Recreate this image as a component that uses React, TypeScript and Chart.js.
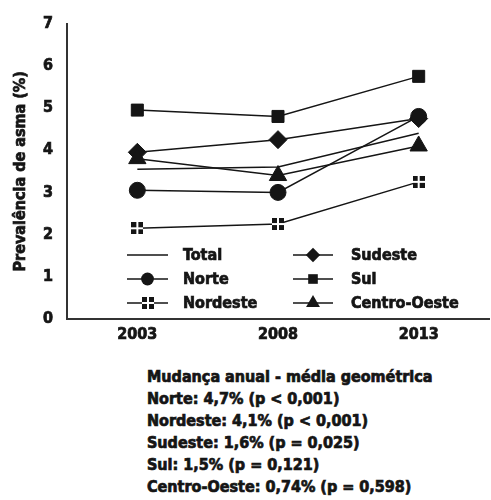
import React, { useEffect, useRef } from 'react';
import { Chart, registerables } from 'chart.js';

Chart.register(...registerables);

// ---- data ----
const years = ['2003', '2008', '2013'];
const total = [3.55, 3.6, 4.4];
const norte = [3.05, 3.0, 4.8];
const nordeste = [2.15, 2.25, 3.25];
const sudeste = [3.95, 4.25, 4.75];
const sul = [4.95, 4.8, 5.75];
const centroOeste = [3.8, 3.4, 4.1];
const yMin = 0;
const yMax = 7;
const yTitle = 'Prevalência de asma (%)';
const notes = [
  'Mudança anual - média geométrica',
  'Norte: 4,7% (p < 0,001)',
  'Nordeste: 4,1% (p < 0,001)',
  'Sudeste: 1,6% (p = 0,025)',
  'Sul: 1,5% (p = 0,121)',
  'Centro-Oeste: 0,74% (p = 0,598)',
];

const FONT = '"DejaVu Sans Condensed", "Liberation Sans Narrow", "DejaVu Sans", sans-serif';
const INK = '#151515';
const STROKE = 0.7;

function makeQuadMarker(): HTMLCanvasElement {
  const c = document.createElement('canvas');
  c.width = 12;
  c.height = 12;
  const g = c.getContext('2d')!;
  g.fillStyle = '#ffffff';
  g.fillRect(0, 0, 12, 12);
  g.fillStyle = INK;
  g.fillRect(0, 0, 5, 5);
  g.fillRect(7, 0, 5, 5);
  g.fillRect(0, 7, 5, 5);
  g.fillRect(7, 7, 5, 5);
  return c;
}

function drawMarker(ctx: CanvasRenderingContext2D, style: any, x: number, y: number, r: number) {
  ctx.save();
  ctx.fillStyle = INK;
  ctx.beginPath();
  if (style instanceof HTMLCanvasElement) {
    ctx.drawImage(style, Math.round(x - style.width / 2), Math.round(y - style.height / 2));
    ctx.restore();
    return;
  }
  if (style === 'circle') {
    ctx.arc(x, y, r, 0, Math.PI * 2);
  } else if (style === 'rect') {
    const s = r * Math.SQRT1_2;
    ctx.rect(x - s, y - s, 2 * s, 2 * s);
  } else if (style === 'rectRot') {
    ctx.moveTo(x, y - r);
    ctx.lineTo(x + r, y);
    ctx.lineTo(x, y + r);
    ctx.lineTo(x - r, y);
    ctx.closePath();
  } else if (style === 'triangle') {
    const a = (2 * Math.PI) / 3;
    ctx.moveTo(x, y - r);
    ctx.lineTo(x + Math.sin(a) * r, y - Math.cos(a) * r);
    ctx.lineTo(x + Math.sin(2 * a) * r, y - Math.cos(2 * a) * r);
    ctx.closePath();
  } else {
    ctx.restore();
    return;
  }
  ctx.fill();
  ctx.restore();
}

function boldText(ctx: CanvasRenderingContext2D, text: string, x: number, y: number) {
  ctx.fillText(text, x, y);
  ctx.lineWidth = STROKE;
  ctx.strokeStyle = INK;
  ctx.strokeText(text, x, y);
}

const legendPlugin = {
  id: 'twoColLegend',
  afterDraw(chart: any) {
    const ctx: CanvasRenderingContext2D = chart.ctx;
    const ds = chart.data.datasets;
    const cols = [
      { x0: 127, x1: 168, tx: 183, items: ['Total', 'Norte', 'Nordeste'] },
      { x0: 293, x1: 333, tx: 351, items: ['Sudeste', 'Sul', 'Centro-Oeste'] },
    ];
    const rows = [255, 279, 303];
    ctx.save();
    ctx.font = `bold 16px ${FONT}`;
    ctx.textBaseline = 'middle';
    ctx.textAlign = 'left';
    cols.forEach((col) => {
      col.items.forEach((label, i) => {
        const d = ds.find((x: any) => x.label === label);
        if (!d) return;
        const y = rows[i];
        ctx.strokeStyle = INK;
        ctx.lineWidth = 1.5;
        ctx.beginPath();
        ctx.moveTo(col.x0, y);
        ctx.lineTo(col.x1, y);
        ctx.stroke();
        if (d.pointRadius > 0) {
          drawMarker(ctx, d.pointStyle, (col.x0 + col.x1) / 2, y, d.pointRadius * 0.8);
        }
        ctx.fillStyle = INK;
        boldText(ctx, label, col.tx, y + 1);
      });
    });
    // y-axis title
    const area = chart.chartArea;
    ctx.translate(21, (area.top + area.bottom) / 2);
    ctx.rotate(-Math.PI / 2);
    ctx.textAlign = 'center';
    ctx.textBaseline = 'middle';
    ctx.font = `bold 16px ${FONT}`;
    ctx.fillStyle = INK;
    boldText(ctx, yTitle, 0, 0);
    ctx.restore();
  },
};

export default function App() {
  const ref = useRef<HTMLCanvasElement | null>(null);

  useEffect(() => {
    document.body.style.margin = '0';
    const quad = makeQuadMarker();
    const base = {
      borderColor: INK,
      backgroundColor: INK,
      pointBackgroundColor: INK,
      pointBorderColor: INK,
      borderWidth: 1.5,
      pointBorderWidth: 1,
      tension: 0,
    };
    const tickFont = { family: FONT, size: 16, weight: 'bold' };
    const chart = new Chart(ref.current!, {
      type: 'line',
      data: {
        labels: years,
        datasets: [
          { ...base, label: 'Total', data: total, pointRadius: 0, pointStyle: 'line' },
          { ...base, label: 'Nordeste', data: nordeste, pointRadius: 6, pointStyle: quad, pointBorderWidth: 0 },
          { ...base, label: 'Norte', data: norte, pointRadius: 8, pointStyle: 'circle' },
          { ...base, label: 'Centro-Oeste', data: centroOeste, pointRadius: 10, pointStyle: 'triangle' },
          { ...base, label: 'Sudeste', data: sudeste, pointRadius: 9, pointStyle: 'rectRot' },
          { ...base, label: 'Sul', data: sul, pointRadius: 8.5, pointStyle: 'rect' },
        ] as any,
      },
      options: {
        animation: false,
        responsive: false,
        maintainAspectRatio: false,
        layout: { autoPadding: false, padding: { top: 23, left: 0, right: 2, bottom: 0 } },
        plugins: {
          legend: { display: false },
          tooltip: { enabled: false },
        },
        scales: {
          x: {
            offset: true,
            grid: { display: false, drawTicks: false },
            border: { display: true, color: '#333', width: 2 },
            ticks: { color: INK, font: tickFont, padding: 6, textStrokeColor: INK, textStrokeWidth: STROKE },
            afterFit: (s: any) => { s.height = 26; },
          },
          y: {
            min: yMin,
            max: yMax,
            grid: { display: false, drawTicks: false },
            border: { display: true, color: '#333', width: 2 },
            ticks: { stepSize: 1, color: INK, font: tickFont, padding: 14, textStrokeColor: INK, textStrokeWidth: STROKE },
            afterFit: (s: any) => { s.width = 67; },
          },
        },
      } as any,
      plugins: [legendPlugin],
    });
    return () => chart.destroy();
  }, []);

  return (
    <div style={{ position: 'relative', width: 491, height: 500, background: '#fff' }}>
      <canvas ref={ref} width={491} height={345} style={{ display: 'block', width: 491, height: 345 }} />
      <div
        style={{
          position: 'absolute',
          left: 147,
          top: 366,
          fontFamily: FONT,
          fontWeight: 'bold',
          fontSize: 16,
          lineHeight: '22px',
          color: INK,
          whiteSpace: 'nowrap',
          WebkitTextStroke: `${STROKE}px ${INK}`,
        } as any}
      >
        {notes.map((n, i) => (
          <div key={i}>{n}</div>
        ))}
      </div>
    </div>
  );
}
